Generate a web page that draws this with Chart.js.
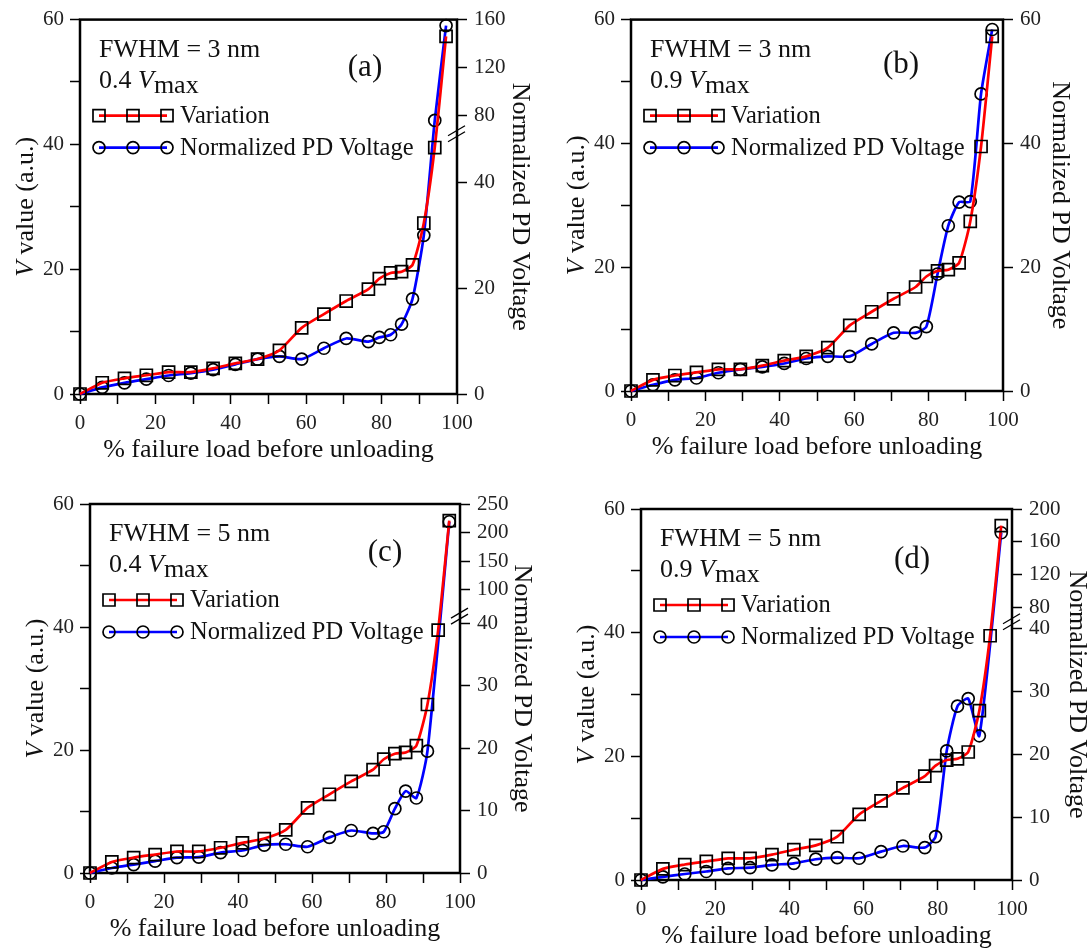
<!DOCTYPE html>
<html>
<head>
<meta charset="utf-8">
<script src="https://cdn.jsdelivr.net/npm/chart.js@4.4.1/dist/chart.umd.min.js"></script>
<style>
  body { margin: 0; background: #fff; width: 1090px; height: 949px; overflow: hidden; position: relative; }
  canvas { position: absolute; }
</style>
</head>
<body>
<canvas id="ca"></canvas>
<canvas id="cb"></canvas>
<canvas id="cc"></canvas>
<canvas id="cd"></canvas>
<script>
// % failure load before unloading (x positions of the points)
const loadPct = [0, 5.9, 11.8, 17.6, 23.5, 29.4, 35.3, 41.2, 47.1, 52.9, 58.8, 64.7, 70.6, 76.5, 79.4, 82.4, 85.3, 88.2, 91.2, 94.1, 97.1];

// Variation, V value (a.u.) - same curve in all four panels
const variation = [0, 1.8, 2.5, 3.0, 3.5, 3.5, 4.1, 4.9, 5.6, 7.0, 10.6, 12.8, 14.9, 16.8, 18.5, 19.4, 19.6, 20.7, 27.4, 39.5, 57.3];

// Normalized PD voltage per panel (null = no marker there)
const pdA = [0, 1.25, 2.1, 2.8, 3.5, 3.95, 4.6, 5.6, 6.6, 7.1, 6.6, 8.65, 10.5, 9.9, 10.7, 11.2, 13.2, 18.0, 30.0, 75.5, 155];
const pdB = [0, 1.0, 1.8, 2.1, 2.95, 3.5, 3.9, 4.45, 5.25, 5.6, 5.6, 7.6, 9.4, 9.4, 10.4, 18.9, 26.7, 30.5, 30.6, 48.0, 58.4];
const pdC = [0, 0.8, 1.35, 1.9, 2.45, 2.55, 3.25, 3.6, 4.45, 4.6, 4.2, 5.7, 6.8, 6.35, 6.6, 10.3, 13.1, 12.0, 19.5, null, 219];
const pdD = [0, 0.5, 0.95, 1.35, 1.85, 1.95, 2.4, 2.65, 3.3, 3.55, 3.45, 4.5, 5.4, 5.15, 6.9, 20.5, 27.6, 28.8, 22.9, null, 171];

// axis ticks
const xTicks = [0, 20, 40, 60, 80, 100];
const leftTicks = [0, 20, 40, 60];
const rightTicksA = [0, 20, 40, 80, 120, 160];
const rightTicksB = [0, 20, 40, 60];
const rightTicksC = [0, 10, 20, 30, 40, 100, 150, 200, 250];
const rightTicksD = [0, 10, 20, 30, 40, 80, 120, 160, 200];

// broken right axes: [value, fraction of axis height]
const anchorsA = [[0, 0], [49.2, 0.695], [64.3, 0.695], [160, 1]];
const anchorsB = [[0, 0], [60, 1]];
const anchorsC = [[0, 0], [41.1, 0.696], [54.3, 0.696], [250, 1]];
const anchorsD = [[0, 0], [41.0, 0.696], [62.3, 0.696], [200, 1]];

// panel texts
const tags = ['(a)', '(b)', '(c)', '(d)'];
const fwhmText = ['FWHM = 3 nm', 'FWHM = 3 nm', 'FWHM = 5 nm', 'FWHM = 5 nm'];
const vFactor = ['0.4', '0.9', '0.4', '0.9'];

const FONT = '"Liberation Serif", "DejaVu Serif", serif';

// linear scale with an axis break, mapped piecewise through anchors
class BrokenScale extends Chart.LinearScale {
    frac(v) {
        const a = this.options.anchors || [[this.min, 0], [this.max, 1]];
        if (v <= a[0][0]) return a[0][1];
        for (let i = 1; i < a.length; i++) {
            if (v <= a[i][0]) {
                const v0 = a[i - 1][0], f0 = a[i - 1][1], v1 = a[i][0], f1 = a[i][1];
                return v1 === v0 ? f1 : f0 + (f1 - f0) * (v - v0) / (v1 - v0);
            }
        }
        return a[a.length - 1][1];
    }
    getPixelForValue(v) {
        if (v === null || v === undefined || isNaN(v)) return NaN;
        return this.getPixelForDecimal(this.frac(v));
    }
    getValueForPixel(p) {
        const d = this.getDecimalForPixel(p);
        const a = this.options.anchors || [[this.min, 0], [this.max, 1]];
        for (let i = 1; i < a.length; i++) {
            if (d <= a[i][1] && a[i][1] > a[i - 1][1]) {
                return a[i - 1][0] + (a[i][0] - a[i - 1][0]) * (d - a[i - 1][1]) / (a[i][1] - a[i - 1][1]);
            }
        }
        return this.max;
    }
}
BrokenScale.id = 'broken';
BrokenScale.defaults = Chart.LinearScale.defaults;
Chart.register(BrokenScale);

const panels = [
    { id: 'ca', cx: 0,   cy: 0,   cw: 545, ch: 470, L: 80,  T: 17,  R: 457,  B: 394, pd: pdA, rt: rightTicksA, an: anchorsA, tagDx: -92,  tagDy: 48, rDx: 63 },
    { id: 'cb', cx: 545, cy: 0,   cw: 545, ch: 470, L: 631, T: 18,  R: 1003, B: 391, pd: pdB, rt: rightTicksB, an: anchorsB, tagDx: -102, tagDy: 45, rDx: 57 },
    { id: 'cc', cx: 0,   cy: 470, cw: 545, ch: 479, L: 90,  T: 504, R: 460,  B: 873, pd: pdC, rt: rightTicksC, an: anchorsC, tagDx: -75,  tagDy: 49, rDx: 62 },
    { id: 'cd', cx: 545, cy: 470, cw: 545, ch: 479, L: 641, T: 509, R: 1012, B: 880, pd: pdD, rt: rightTicksD, an: anchorsD, tagDx: -100, tagDy: 51, rDx: 65 }
];

// draw text made of runs (italic / lowered parts), starting at x
function runsWidth(ctx, runs, size) {
    let w = 0;
    runs.forEach(r => {
        ctx.font = (r.italic ? 'italic ' : '') + size + 'px ' + FONT;
        w += ctx.measureText(r.t).width;
    });
    return w;
}
function drawRuns(ctx, x, y, runs, size) {
    runs.forEach(r => {
        ctx.font = (r.italic ? 'italic ' : '') + size + 'px ' + FONT;
        ctx.fillText(r.t, x, y + (r.dy || 0));
        x += ctx.measureText(r.t).width;
    });
}

function drawMarker(ctx, style, x, y) {
    ctx.save();
    ctx.strokeStyle = '#000';
    ctx.lineWidth = 1.7;
    ctx.beginPath();
    if (style === 'rect') {
        ctx.rect(x - 6, y - 6, 12, 12);
    } else {
        ctx.arc(x, y, 6, 0, Math.PI * 2);
    }
    ctx.stroke();
    ctx.restore();
}

function makeDecor(p, idx) {
    return {
        id: 'decor' + idx,
        beforeDatasetsDraw(chart) {
            const a = chart.chartArea;
            const ctx = chart.ctx;
            ctx.save();
            ctx.strokeStyle = '#000';
            ctx.lineWidth = 2.5;
            ctx.strokeRect(a.left, a.top, a.right - a.left, a.bottom - a.top);
            ctx.restore();
        },
        afterDraw(chart) {
            const a = chart.chartArea;
            const ctx = chart.ctx;
            ctx.save();
            ctx.fillStyle = '#111';
            ctx.textBaseline = 'alphabetic';
            ctx.textAlign = 'left';

            // break mark on right axis
            const br = p.an.find((v, i) => i > 0 && v[1] === p.an[i - 1][1]);
            if (br) {
                const yb = chart.scales.y2.getPixelForDecimal(br[1]);
                ctx.strokeStyle = '#000';
                ctx.lineWidth = 1.3;
                [-3, 3].forEach(o => {
                    ctx.beginPath();
                    ctx.moveTo(a.right - 9, yb + o + 5);
                    ctx.lineTo(a.right + 8, yb + o - 5);
                    ctx.stroke();
                });
            }

            // annotation block
            const lx = a.left + 19;
            drawRuns(ctx, lx, a.top + 37, [{ t: fwhmText[idx] }], 26);
            drawRuns(ctx, lx, a.top + 68, [{ t: vFactor[idx] + ' ' }, { t: 'V', italic: true }, { t: 'max', dy: 5 }], 26);

            ctx.textAlign = 'center';
            ctx.textBaseline = 'middle';
            ctx.font = '31px ' + FONT;
            ctx.fillText(tags[idx], a.right + p.tagDx, a.top + p.tagDy);

            // legend
            const rows = [
                { y: a.top + 96, color: '#ff0000', style: 'rect', text: 'Variation' },
                { y: a.top + 128, color: '#0000ff', style: 'circle', text: 'Normalized PD Voltage' }
            ];
            rows.forEach(r => {
                ctx.strokeStyle = r.color;
                ctx.lineWidth = 2.7;
                ctx.beginPath();
                ctx.moveTo(a.left + 19, r.y);
                ctx.lineTo(a.left + 87, r.y);
                ctx.stroke();
                [19, 53, 87].forEach(dx => drawMarker(ctx, r.style, a.left + dx, r.y));
                ctx.textAlign = 'left';
                ctx.font = '24.5px ' + FONT;
                ctx.fillText(r.text, a.left + 100, r.y + 1);
            });

            // axis titles
            ctx.textBaseline = 'middle';
            ctx.textAlign = 'center';
            ctx.font = '26px ' + FONT;
            ctx.fillText('% failure load before unloading', (a.left + a.right) / 2, a.bottom + 56);

            const midY = (a.top + a.bottom) / 2;
            ctx.save();
            ctx.translate(a.left - 54, midY);
            ctx.rotate(-Math.PI / 2);
            ctx.textAlign = 'left';
            const leftRuns = [{ t: 'V', italic: true }, { t: ' value (a.u.)' }];
            drawRuns(ctx, -runsWidth(ctx, leftRuns, 26) / 2, 0, leftRuns, 26);
            ctx.restore();

            ctx.save();
            ctx.translate(a.right + p.rDx, midY);
            ctx.rotate(Math.PI / 2);
            ctx.textAlign = 'center';
            ctx.font = '26px ' + FONT;
            ctx.fillText('Normalized PD Voltage', 0, 0);
            ctx.restore();

            ctx.restore();
        }
    };
}

function tickFont() {
    return { family: FONT, size: 21 };
}

panels.forEach((p, idx) => {
    const cv = document.getElementById(p.id);
    cv.width = p.cw;
    cv.height = p.ch;
    cv.style.left = p.cx + 'px';
    cv.style.top = p.cy + 'px';
    cv.style.width = p.cw + 'px';
    cv.style.height = p.ch + 'px';

    const gridOpts = { drawOnChartArea: false, drawTicks: true, tickLength: 10, tickWidth: 1.5, tickColor: '#000' };

    new Chart(cv.getContext('2d'), {
        type: 'line',
        data: {
            datasets: [
                {
                    label: 'Variation',
                    data: loadPct.map((x, i) => ({ x: x, y: variation[i] })),
                    yAxisID: 'y',
                    borderColor: '#ff0000',
                    borderWidth: 2.7,
                    pointStyle: 'rect',
                    pointRadius: 8.5,
                    pointBorderColor: '#000',
                    pointBorderWidth: 1.7,
                    pointBackgroundColor: 'rgba(0,0,0,0)',
                    tension: 0.2,
                    clip: false
                },
                {
                    label: 'Normalized PD Voltage',
                    data: loadPct.map((x, i) => ({ x: x, y: p.pd[i] })),
                    yAxisID: 'y2',
                    borderColor: '#0000ff',
                    borderWidth: 2.7,
                    pointStyle: 'circle',
                    pointRadius: 6,
                    pointBorderColor: '#000',
                    pointBorderWidth: 1.7,
                    pointBackgroundColor: 'rgba(0,0,0,0)',
                    tension: 0.2,
                    spanGaps: true,
                    clip: false
                }
            ]
        },
        options: {
            responsive: false,
            animation: false,
            devicePixelRatio: 1,
            layout: { padding: { top: p.T - p.cy, left: 0, right: 0, bottom: 0 } },
            plugins: { legend: { display: false }, tooltip: { enabled: false } },
            scales: {
                x: {
                    type: 'linear', min: 0, max: 100,
                    ticks: {
                        stepSize: 10, autoSkip: false, maxRotation: 0, padding: 7,
                        font: tickFont(), color: '#222',
                        callback: v => xTicks.includes(v) ? String(v) : ''
                    },
                    grid: gridOpts,
                    border: { display: false },
                    afterFit: s => { s.height = p.cy + p.ch - p.B; }
                },
                y: {
                    type: 'linear', position: 'left', min: 0, max: 60,
                    ticks: {
                        stepSize: 10, autoSkip: false, padding: 6,
                        font: tickFont(), color: '#222',
                        callback: v => leftTicks.includes(v) ? String(v) : ''
                    },
                    grid: gridOpts,
                    border: { display: false },
                    afterFit: s => { s.width = p.L - p.cx; }
                },
                y2: {
                    type: 'broken', position: 'right', min: 0, max: p.rt[p.rt.length - 1],
                    anchors: p.an,
                    ticks: {
                        autoSkip: false, padding: 7,
                        font: tickFont(), color: '#222',
                        callback: v => String(v)
                    },
                    afterBuildTicks: s => { s.ticks = p.rt.map(v => ({ value: v })); },
                    grid: gridOpts,
                    border: { display: false },
                    afterFit: s => { s.width = p.cx + p.cw - p.R; }
                }
            }
        },
        plugins: [makeDecor(p, idx)]
    });
});
</script>
</body>
</html>
